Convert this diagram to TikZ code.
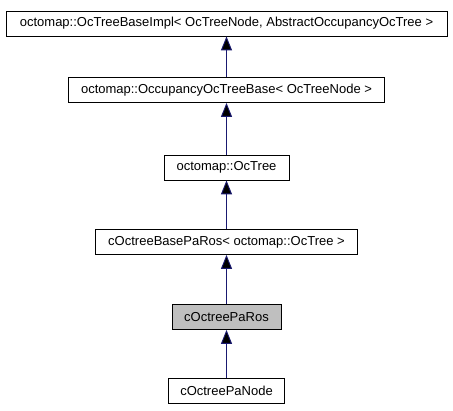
\documentclass[tikz,border=0pt]{standalone}
\usepackage{fontspec}
\setmainfont{Liberation Sans}
\usetikzlibrary{arrows.meta}
\definecolor{edgeblue}{HTML}{191970}
\definecolor{curgray}{HTML}{BFBFBF}

\begin{document}
\begin{tikzpicture}[x=1pt, y=-1pt,
  cls/.style={draw=black, line width=0.8pt, fill=white, minimum height=25pt, inner sep=0pt, font=\fontsize{13}{15}\selectfont},
  derives/.style={draw=edgeblue, line width=0.9pt, -{Triangle[width=11pt,length=14pt]}}]
  \useasboundingbox (0,0) rectangle (453,411);
  \node[cls, minimum width=441pt] (impl) at (226.5,23.5) {octomap::OcTreeBaseImpl< OcTreeNode, AbstractOccupancyOcTree >};
  \node[cls, minimum width=316pt] (occ) at (226.5,90) {octomap::OccupancyOcTreeBase< OcTreeNode >};
  \node[cls, minimum width=125pt] (octree) at (226.5,167.5) {octomap::OcTree};
  \node[cls, minimum width=262pt] (basepa) at (226.5,242) {cOctreeBasePaRos< octomap::OcTree >};
  \node[cls, minimum width=109pt, fill=curgray] (paros) at (226.5,317) {cOctreePaRos};
  \node[cls, minimum width=116pt] (panode) at (226.5,391) {cOctreePaNode};
  \path[derives]
  (occ) edge (impl)
  (octree) edge (occ)
  (basepa) edge (octree)
  (paros) edge (basepa)
  (panode) edge (paros)
  ;
\end{tikzpicture}
\end{document}
